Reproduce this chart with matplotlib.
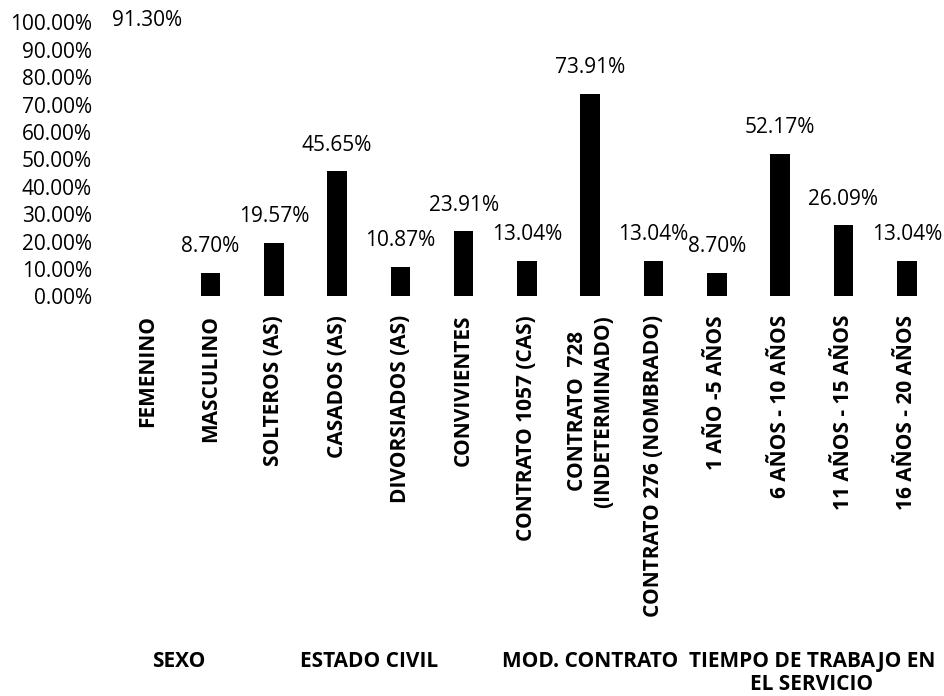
import matplotlib
matplotlib.use("Agg")
import matplotlib.pyplot as plt
import matplotlib.transforms as mtransforms

categories = ["FEMENINO", "MASCULINO", "SOLTEROS (AS)", "CASADOS (AS)", "DIVORSIADOS (AS)",
              "CONVIVIENTES", "CONTRATO 1057 (CAS)", "CONTRATO  728\n(INDETERMINADO)",
              "CONTRATO 276 (NOMBRADO)", "1 AÑO -5 AÑOS", "6 AÑOS - 10 AÑOS",
              "11 AÑOS - 15 AÑOS", "16 AÑOS - 20 AÑOS"]
values = [91.30, 8.70, 19.57, 45.65, 10.87, 23.91, 13.04, 73.91, 13.04, 8.70, 52.17, 26.09, 13.04]
groups = ["SEXO", "ESTADO CIVIL", "MOD. CONTRATO", "TIEMPO DE TRABAJO EN\nEL SERVICIO"]
group_members = [[0, 1], [2, 3, 4, 5], [6, 7, 8], [9, 10, 11, 12]]
y_ticks = [0, 10, 20, 30, 40, 50, 60, 70, 80, 90, 100]

FONT = "Open Sans"
plt.rcParams['font.family'] = [FONT, 'DejaVu Sans']
FS = 15

fig = plt.figure(figsize=(9.44, 6.96), dpi=100)
ax = fig.add_axes([0.1224, 0.574, 0.8716, 0.3937])

x = list(range(len(categories)))
# the first bar is not visible in the scanned reference
colors = ["white"] + ["black"] * (len(categories) - 1)
ax.bar(x, values, width=0.31, color=colors, edgecolor="none")

for xi, v in zip(x, values):
    ax.annotate(f"{v:.2f}%", (xi, v), xytext=(0, 18.7), textcoords="offset points",
                ha="center", va="center", fontsize=FS, color="black")

ax.set_xlim(-0.5, len(categories) - 0.5)
ax.set_ylim(0, 100)
ax.set_yticks(y_ticks)
ax.set_yticklabels([f"{t:.2f}%" for t in y_ticks], fontsize=FS)
ax.set_xticks(x)
ax.set_xticklabels(categories, rotation=90, fontsize=FS, fontweight="bold",
                   ha="center", va="top", multialignment="center", linespacing=1.3)
ax.tick_params(axis="x", length=0, pad=13.3)
ax.tick_params(axis="y", length=0, pad=17)
for s in ax.spines.values():
    s.set_visible(False)

trans = mtransforms.blended_transform_factory(ax.transData, fig.transFigure)
for g, members in zip(groups, group_members):
    gx = (members[0] + members[-1]) / 2
    ax.text(gx, (696 - 651) / 696, g, transform=trans, ha="center", va="top",
            fontsize=FS, fontweight="bold", multialignment="center", linespacing=1.12)

fig.savefig("out.png", dpi=100)
